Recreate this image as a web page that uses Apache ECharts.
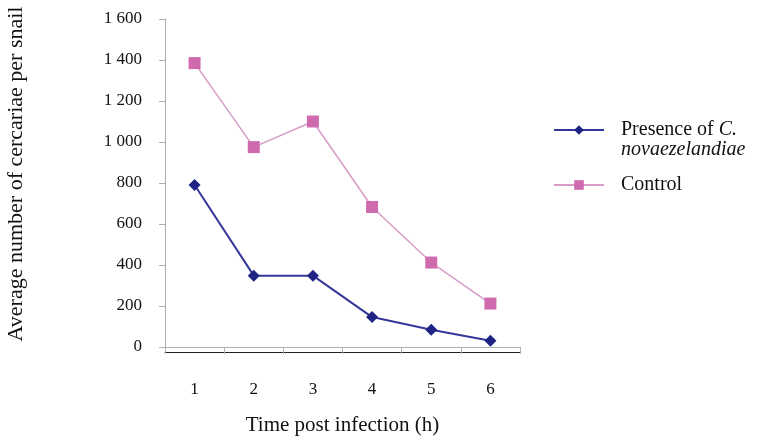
<!DOCTYPE html>
<html><head><meta charset="utf-8">
<script src="https://cdn.jsdelivr.net/npm/echarts@6/dist/echarts.min.js"></script>
<style>html,body{margin:0;padding:0;background:#fff}#c{width:761px;height:442px}</style>
</head><body><div id="c"></div>
<script>
const categories = ['1','2','3','4','5','6'];
const presence = [790, 348, 348, 146, 84, 30];
const control = [1385, 975, 1100, 683, 412, 212];
const seriesNames = ['Presence of C.', 'Control'];
const xTitle = 'Time post infection (h)';
const yTitle = 'Average number of cercariae per snail';
const FONT = 'Liberation Serif';

const chart = echarts.init(document.getElementById('c'));
chart.setOption({
  animation: false,
  backgroundColor: '#fff',
  textStyle: {fontFamily: FONT},
  grid: {left: 165, right: 241, top: 19, bottom: 95},
  legend: {
    orient: 'vertical', left: 548, top: 114,
    itemWidth: 50, itemHeight: 12, itemGap: 33,
    formatter: n => n === seriesNames[0] ? 'Presence of {i|C.}' : n,
    textStyle: {fontFamily: FONT, fontSize: 20, lineHeight: 22, color: '#111', padding: [0,0,0,12],
      rich: {i: {fontStyle: 'italic', fontFamily: FONT, fontSize: 20, lineHeight: 22, color: '#111'}}},
    data: seriesNames
  },
  graphic: [{
    type: 'text', left: 621, top: 140,
    style: {text: 'novaezelandiae', font: 'italic 20px "Liberation Serif"', fill: '#111'}
  }],
  xAxis: [{
    type: 'category', data: categories, boundaryGap: true,
    axisLine: {lineStyle: {color: '#b0b0b0', width: 1}},
    axisTick: {show: true, length: 7, lineStyle: {color: '#b0b0b0'}},
    axisLabel: {margin: 34, fontSize: 17, color: '#111', fontFamily: FONT},
    name: xTitle, nameLocation: 'middle', nameGap: 68,
    nameTextStyle: {fontSize: 21, color: '#111', fontFamily: FONT}
  }, {
    type: 'category', data: categories, position: 'bottom', offset: 5,
    axisLine: {lineStyle: {color: '#222', width: 1}},
    axisTick: {show: false}, axisLabel: {show: false}
  }],
  yAxis: {
    type: 'value', min: 0, max: 1600, interval: 200,
    axisLine: {show: true, lineStyle: {color: '#b0b0b0'}},
    axisTick: {show: true, length: 6, lineStyle: {color: '#b0b0b0'}},
    splitLine: {show: false},
    axisLabel: {margin: 23, fontSize: 17, color: '#111', fontFamily: FONT,
      formatter: v => v >= 1000 ? Math.floor(v/1000) + ' ' + String(v%1000).padStart(3,'0') : String(v)},
    name: yTitle, nameLocation: 'middle', nameGap: 138,
    nameTextStyle: {fontSize: 22, color: '#111', fontFamily: FONT, padding: [0,0,0,18]}
  },
  series: [{
    name: seriesNames[0], type: 'line', data: presence,
    symbol: 'diamond', symbolSize: 12,
    lineStyle: {color: '#34379a', width: 2},
    itemStyle: {color: '#1e2384'}
  }, {
    name: seriesNames[1], type: 'line', data: control,
    symbol: 'rect', symbolSize: 12,
    lineStyle: {color: '#d79cc6', width: 1.5},
    itemStyle: {color: '#d06aae'}
  }]
});
</script></body></html>
